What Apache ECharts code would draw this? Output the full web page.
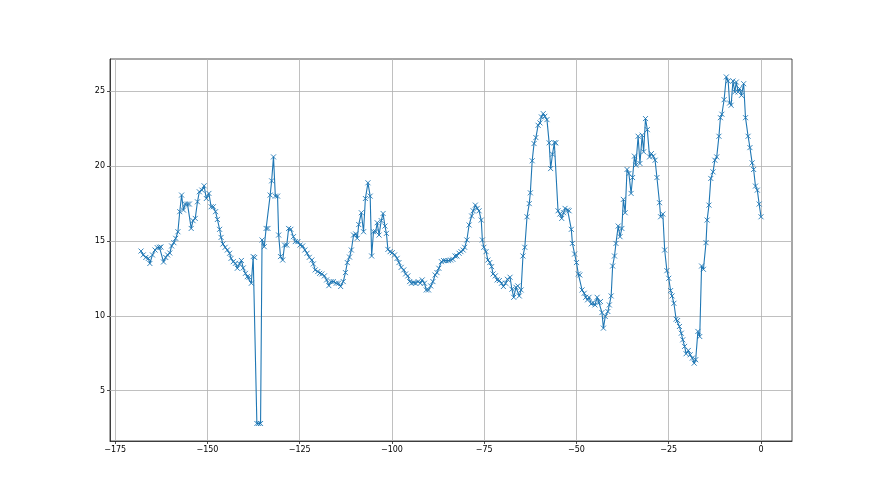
<!DOCTYPE html>
<html><head><meta charset="utf-8">
<script src="https://cdn.jsdelivr.net/npm/echarts@6/dist/echarts.min.js"></script>
<style>html,body{margin:0;padding:0;background:#fff}#c{width:880px;height:495px}</style>
</head><body><div id="c"></div>
<script>
const hours = [-168,-167.4,-166.7,-166,-165.6,-164.9,-164.2,-163.6,-163,-162.6,-161.9,-161.3,-160.8,-160.2,-159.7,-159.1,-158.6,-158,-157.5,-157,-156.5,-156,-155.4,-154.9,-154.4,-153.9,-153.3,-152.7,-152.2,-151.5,-150.9,-150.3,-149.6,-149,-148.4,-147.8,-147.3,-146.7,-146.3,-145.8,-145.2,-144.6,-144,-143.6,-143,-142.4,-141.9,-141.3,-140.8,-140.3,-139.7,-139.2,-138.7,-138.1,-137.6,-137.2,-136.6,-136.1,-135.6,-135.2,-134.6,-134.1,-133.6,-133,-132.6,-132.1,-131.6,-131,-130.7,-130.2,-129.6,-129.1,-128.5,-128,-127.4,-126.7,-126.2,-125.5,-124.9,-124.2,-123.6,-123,-122.4,-121.7,-121.3,-120.8,-120.1,-119.6,-119,-118.3,-117.7,-117.1,-116.5,-115.9,-115.1,-114.5,-113.9,-113.2,-112.6,-112.1,-111.5,-111,-110.4,-109.8,-109.4,-109,-108.3,-107.7,-107.2,-106.5,-105.9,-105.5,-105,-104.4,-104,-103.5,-102.9,-102.4,-101.9,-101.5,-101.1,-100.5,-99.9,-99.3,-98.6,-98.1,-97.5,-96.8,-96.3,-95.7,-95.2,-94.7,-94.1,-93.6,-92.9,-92.3,-91.8,-91.2,-90.7,-90.1,-89.5,-88.9,-88.3,-87.8,-87.3,-86.6,-86,-85.4,-84.7,-84.1,-83.5,-82.9,-82.4,-81.8,-81.3,-80.7,-80.3,-79.7,-79.1,-78.4,-78,-77.4,-76.9,-76.4,-75.8,-75.5,-75.1,-74.5,-74,-73.5,-73,-72.6,-72,-71.5,-70.9,-70.3,-69.8,-69.2,-68.7,-68,-67.5,-67,-66.4,-65.9,-65.5,-65,-64.5,-64,-63.4,-62.8,-62.5,-62,-61.5,-61,-60.4,-59.9,-59.5,-59,-58.6,-58,-57.4,-57,-56.5,-56,-55.6,-55,-54.5,-54,-53.5,-53.1,-52.4,-52,-51.4,-51.1,-50.5,-50,-49.5,-49.1,-48.5,-47.9,-47.5,-47,-46.6,-46,-45.5,-45,-44.4,-43.9,-43.5,-43.1,-42.7,-42.2,-41.5,-41.1,-40.6,-40.2,-39.7,-39.3,-38.7,-38.2,-37.7,-37.3,-36.8,-36.3,-35.8,-35.2,-34.8,-34.3,-33.9,-33.3,-32.8,-32.2,-31.8,-31.3,-30.8,-30.2,-29.7,-29.2,-28.7,-28.2,-27.5,-27.2,-26.6,-26.1,-25.5,-25,-24.5,-24.1,-23.6,-23,-22.6,-22.1,-21.6,-21.2,-20.7,-20.3,-19.7,-19.2,-18.6,-18.1,-17.7,-17.1,-16.6,-16.1,-15.6,-14.9,-14.6,-14.1,-13.6,-13,-12.5,-12,-11.4,-11,-10.6,-10,-9.4,-8.9,-8.5,-8.1,-7.6,-7.1,-6.7,-6.2,-5.8,-5.3,-4.7,-4.2,-3.5,-3,-2.4,-2,-1.5,-1,-0.5,0];
const values = [14.33,14.07,13.9,13.84,13.5,14.07,14.4,14.56,14.58,14.6,13.6,13.9,14.07,14.2,14.67,14.89,15.18,15.62,16.96,18.07,17.07,17.47,17.47,17.47,15.84,16.36,16.51,17.62,18.29,18.4,18.69,17.84,18.18,17.29,17.29,16.96,16.44,15.78,15.24,14.8,14.58,14.4,14.18,13.84,13.62,13.51,13.18,13.47,13.7,13.2,12.84,12.62,12.58,12.18,13.96,13.9,2.81,2.81,2.81,15.07,14.62,15.84,15.84,18.07,19.02,20.62,18.0,18.0,15.4,13.96,13.73,14.73,14.73,15.84,15.78,15.29,14.96,14.96,14.73,14.67,14.4,14.18,13.91,13.73,13.47,13.07,12.96,12.84,12.8,12.67,12.4,12.02,12.29,12.29,12.18,12.18,11.96,12.29,12.89,13.56,13.93,14.4,15.4,15.47,15.18,16.1,16.89,15.62,17.84,18.89,18.0,14.0,15.62,15.62,16.22,15.4,16.36,16.84,16.0,15.51,14.44,14.29,14.22,14.07,13.84,13.56,13.24,13.07,12.8,12.67,12.29,12.18,12.22,12.18,12.29,12.18,12.4,12.18,11.73,11.73,12.0,12.29,12.73,12.89,13.18,13.62,13.69,13.69,13.69,13.73,13.78,14.0,14.0,14.18,14.29,14.4,14.58,15.07,16.07,16.67,17.02,17.4,17.18,17.02,16.4,15.07,14.58,14.29,13.73,13.56,13.29,12.8,12.67,12.4,12.36,12.18,11.96,12.18,12.44,12.58,11.78,11.24,11.91,12.0,11.33,11.73,14.0,14.58,16.62,17.5,18.22,20.36,21.51,21.91,22.73,22.89,23.29,23.51,23.33,23.11,21.56,19.84,20.8,21.56,21.56,17.02,16.8,16.51,16.89,17.18,17.07,17.02,15.78,14.84,14.13,13.56,12.8,12.73,11.73,11.51,11.24,11.07,11.24,10.8,10.89,10.73,11.24,10.89,10.96,10.22,9.18,9.96,10.29,10.73,11.33,13.33,14.0,14.84,16.0,15.29,15.84,17.78,16.89,19.78,19.51,18.18,19.24,20.67,20.07,22.0,20.18,22.07,20.96,23.18,22.44,20.62,20.84,20.67,20.4,19.24,17.56,16.62,16.8,14.4,13.02,12.51,11.69,11.33,10.84,9.78,9.69,9.29,8.84,8.4,7.96,7.47,7.69,7.4,7.18,6.84,7.07,8.96,8.62,13.33,13.11,14.89,16.4,17.4,19.18,19.62,20.4,20.62,22.0,23.24,23.47,24.44,25.96,25.69,24.22,24.07,25.69,24.96,25.62,24.96,25.18,24.73,25.51,23.24,22.0,21.24,20.22,19.78,18.67,18.4,17.47,16.62];
const xTicks = [-175,-150,-125,-100,-75,-50,-25,0];
const yTicks = [5,10,15,20,25];

const fmt = v => String(v).replace('-', '\u2212');
const labelStyle = {color:'#000', fontFamily:'DejaVu Sans', fontSize:8};
const chart = echarts.init(document.getElementById('c'), null, {renderer:'canvas'});
chart.setOption({
  animation:false,
  backgroundColor:'#fff',
  grid:{left:110, top:59, right:88, bottom:54, show:true, borderColor:'#222', borderWidth:0.8, backgroundColor:'transparent'},
  xAxis:{type:'value', min:-176.4, max:8.4,
    axisLine:{show:true, onZero:false, lineStyle:{color:'#222', width:0.8}},
    axisTick:{show:true, length:3, inside:false, customValues:xTicks, lineStyle:{color:'#222', width:0.8}},
    axisLabel:{...labelStyle, margin:5, customValues:xTicks, formatter:fmt},
    splitLine:{show:false}
  },
  yAxis:{type:'value', min:1.64, max:27.16,
    axisLine:{show:true, onZero:false, lineStyle:{color:'#222', width:0.8}},
    axisTick:{show:true, length:3, customValues:yTicks, lineStyle:{color:'#222', width:0.8}},
    axisLabel:{...labelStyle, margin:5, customValues:yTicks, formatter:fmt},
    splitLine:{show:false}
  },
  series:[{
    type:'line',
    data:hours.map((h,i)=>[h, values[i]]),
    lineStyle:{color:'#1f77b4', width:1.1},
    symbol:'path://M0,0L10,10M10,0L0,10',
    symbolSize:5,
    showSymbol:true,
    itemStyle:{color:'rgba(0,0,0,0)', borderColor:'#1f77b4', borderWidth:0.9},
    z:3,
    markLine:{silent:true, symbol:'none', label:{show:false}, z:1,
      lineStyle:{color:'#b0b0b0', width:0.8, type:'solid'},
      data:[...xTicks.map(v=>({xAxis:v})), ...yTicks.map(v=>({yAxis:v}))]
    }
  }]
});
</script>
</body></html>
